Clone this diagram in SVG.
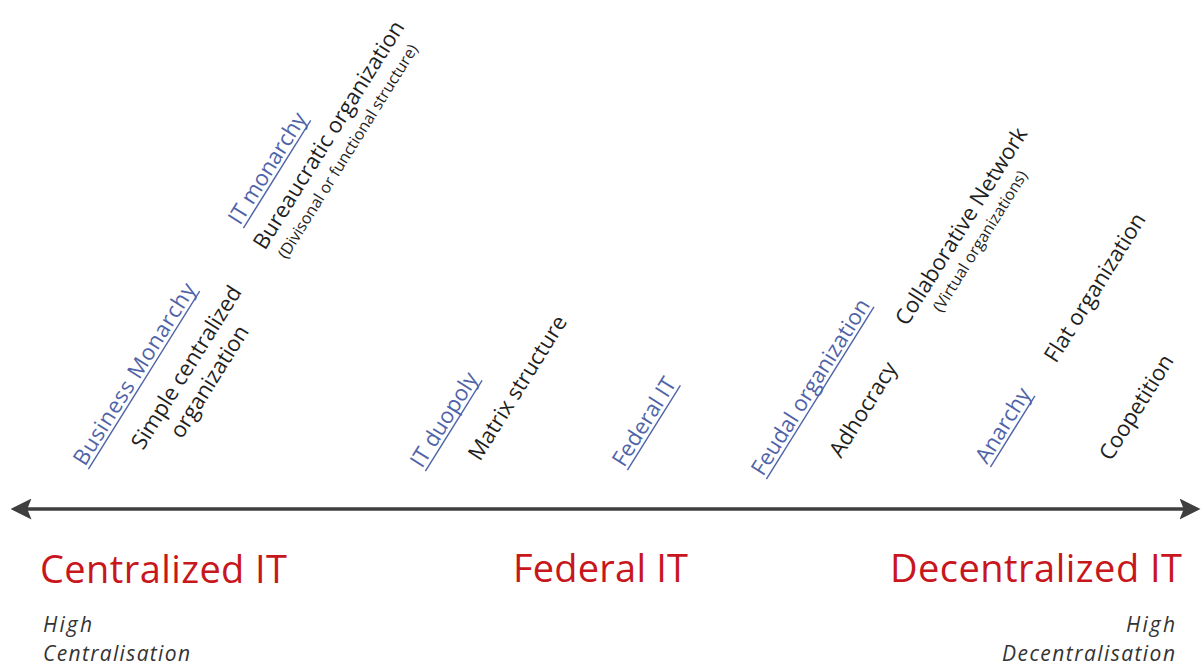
<svg xmlns="http://www.w3.org/2000/svg" width="1202" height="666" viewBox="0 0 1202 666">
<style>
text{font-family:"Open Sans","Noto Sans","Liberation Sans",sans-serif}
.lnk{font-size:22px;fill:#5063A8}
.ul{stroke:#5063A8;stroke-width:1.4}
.org{font-size:22px;fill:#1f1f1f}
.sub{font-size:16px;fill:#1f1f1f}
.big{font-size:38px;fill:#C8161D}
.note{font-size:21px;fill:#333;font-style:italic}
</style>
<defs>
<marker id="ah" markerWidth="6" markerHeight="6" refX="5" refY="3" orient="auto-start-reverse" markerUnits="strokeWidth">
<path d="M0,0 L6,3 L0,6 L1.2,3 Z" fill="#3f3f3f"/>
</marker>
</defs>
<rect width="1202" height="666" fill="#fff"/>
<g id="connectors">
<line x1="14" y1="509" x2="1197" y2="509" stroke="#3f3f3f" stroke-width="3.5" marker-start="url(#ah)" marker-end="url(#ah)"/>
</g>
<g id="business-monarchy" transform="translate(85,467) rotate(-58)"><text class="lnk" textLength="210">Business Monarchy</text><line class="ul" x1="0" y1="4" x2="210" y2="4"/></g>
<g id="simple-centralized" transform="translate(143,451) rotate(-58)"><text class="org">Simple centralized</text><text class="org" x="30" y="27">organization</text></g>
<g id="it-monarchy" transform="translate(240,226) rotate(-58)"><text class="lnk" textLength="127">IT monarchy</text><line class="ul" x1="0" y1="4" x2="127" y2="4"/></g>
<g id="bureaucratic" transform="translate(265,251) rotate(-58)"><text class="org">Bureaucratic organization</text><text class="sub" x="4" y="23">(Divisonal or functional structure)</text></g>
<g id="it-duopoly" transform="translate(422,469) rotate(-58)"><text class="lnk" textLength="107">IT duopoly</text><line class="ul" x1="0" y1="4" x2="107" y2="4"/></g>
<g id="matrix" transform="translate(480,462) rotate(-58)"><text class="org">Matrix structure</text></g>
<g id="federal-it-link" transform="translate(624,468) rotate(-58)"><text class="lnk" textLength="100">Federal IT</text><line class="ul" x1="0" y1="4" x2="100" y2="4"/></g>
<g id="feudal" transform="translate(763,477) rotate(-58)"><text class="lnk" textLength="203">Feudal organization</text><line class="ul" x1="0" y1="4" x2="203" y2="4"/></g>
<g id="adhocracy" transform="translate(841,459) rotate(-58)"><text class="org">Adhocracy</text></g>
<g id="collaborative" transform="translate(907,327) rotate(-58)"><text class="org">Collaborative Network</text><text class="sub" x="30" y="22">(Virtual organizations)</text></g>
<g id="anarchy" transform="translate(987,465) rotate(-58)"><text class="lnk" textLength="84">Anarchy</text><line class="ul" x1="0" y1="4" x2="84" y2="4"/></g>
<g id="flat" transform="translate(1056,364) rotate(-58)"><text class="org">Flat organization</text></g>
<g id="coopetition" transform="translate(1111,462) rotate(-58)"><text class="org">Coopetition</text></g>
<g id="centralized-it"><text class="big" x="40" y="583" textLength="247">Centralized IT</text></g>
<g id="federal-it"><text class="big" x="513" y="582" textLength="175">Federal IT</text></g>
<g id="decentralized-it"><text class="big" x="890" y="582" textLength="292">Decentralized IT</text></g>
<g id="high-centralisation"><text class="note" x="43" y="632" textLength="49">High</text><text class="note" x="43" y="661" textLength="147">Centralisation</text></g>
<g id="high-decentralisation"><text class="note" x="1175" y="632" text-anchor="end" textLength="49">High</text><text class="note" x="1175" y="661" text-anchor="end" textLength="173">Decentralisation</text></g>
</svg>
